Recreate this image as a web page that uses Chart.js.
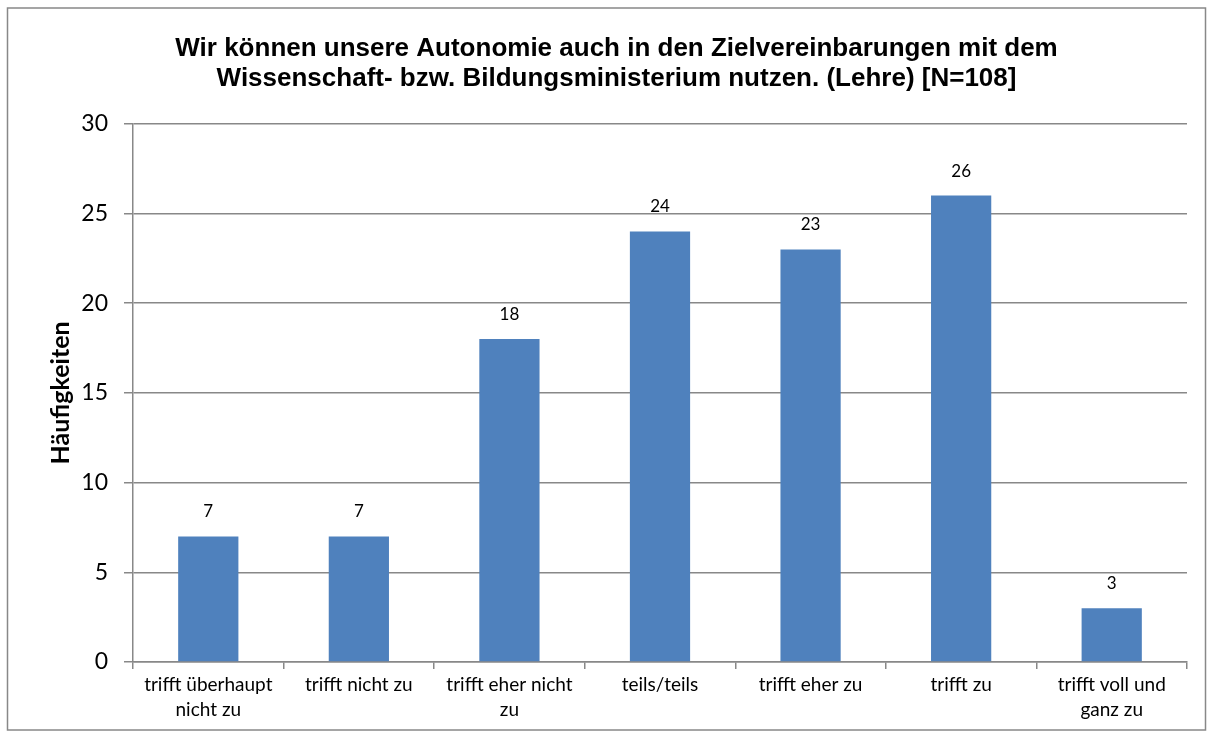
<!DOCTYPE html>
<html>
<head>
<meta charset="utf-8">
<script src="https://cdn.jsdelivr.net/npm/chart.js@4"></script>
<style>
  html, body { margin: 0; padding: 0; background: #fff; }
  #wrap { width: 1213px; height: 737px; position: relative; }
</style>
</head>
<body>
<div id="wrap"><canvas id="c" width="1213" height="737"></canvas></div>
<script>
// categories and values
const categories = [
  ['trifft überhaupt', 'nicht zu'],
  'trifft nicht zu',
  ['trifft eher nicht', 'zu'],
  'teils/teils',
  'trifft eher zu',
  'trifft zu',
  ['trifft voll und', 'ganz zu']
];
const counts = [7, 7, 18, 24, 23, 26, 3];
const yTicks = [0, 5, 10, 15, 20, 25, 30];

const titleLines = [
  'Wir können unsere Autonomie auch in den Zielvereinbarungen mit dem',
  'Wissenschaft- bzw. Bildungsministerium nutzen. (Lehre) [N=108]'
];

// outer frame of the chart
const framePlugin = {
  id: 'frame',
  beforeDraw(chart) {
    const ctx = chart.ctx;
    ctx.save();
    ctx.fillStyle = '#fff';
    ctx.fillRect(0, 0, chart.width, chart.height);
    ctx.strokeStyle = '#888';
    ctx.lineWidth = 1.5;
    ctx.strokeRect(7.5, 8, 1198, 722);
    ctx.restore();
  }
};

// value above each bar
const valueLabels = {
  id: 'valueLabels',
  afterDatasetsDraw(chart) {
    const ctx = chart.ctx;
    const meta = chart.getDatasetMeta(0);
    ctx.save();
    ctx.font = '17px Lato, "Open Sans", sans-serif';
    ctx.fillStyle = '#000';
    ctx.textAlign = 'center';
    ctx.textBaseline = 'bottom';
    meta.data.forEach((bar, i) => {
      ctx.fillText(counts[i], bar.x, bar.y - 16);
    });
    ctx.restore();
  }
};

const ctx = document.getElementById('c').getContext('2d');
new Chart(ctx, {
  type: 'bar',
  data: {
    labels: categories,
    datasets: [{
      data: counts,
      backgroundColor: '#4F81BD',
      borderWidth: 0,
      categoryPercentage: 1,
      barPercentage: 0.4
    }]
  },
  options: {
    responsive: false,
    animation: false,
    devicePixelRatio: 1,
    layout: { padding: { left: 46, right: 26, top: 0, bottom: 0 } },
    plugins: {
      legend: { display: false },
      tooltip: { enabled: false },
      title: {
        display: true,
        text: titleLines,
        color: '#000',
        font: { family: '"Liberation Sans", Arial, sans-serif', size: 26, weight: 'bold', lineHeight: 1.15 },
        padding: { top: 34, bottom: 30 }
      }
    },
    scales: {
      x: {
        grid: {
          offset: true,
          drawOnChartArea: false,
          color: '#888',
          lineWidth: 1.5,
          tickLength: 7
        },
        border: { color: '#888', width: 1.5 },
        ticks: {
          autoSkip: false,
          maxRotation: 0,
          color: '#000',
          padding: 4,
          font: { family: 'Lato, "Open Sans", sans-serif', size: 19, lineHeight: 1.3 }
        },
        afterFit(scale) { scale.height = 75; }
      },
      y: {
        min: 0,
        max: 30,
        afterBuildTicks(scale) { scale.ticks = yTicks.map(v => ({ value: v })); },
        grid: {
          color: '#888',
          lineWidth: 1.5,
          tickLength: 9
        },
        border: { color: '#888', width: 1.5 },
        ticks: {
          color: '#000',
          padding: 16,
          font: { family: 'Lato, "Open Sans", sans-serif', size: 23 }
        },
        title: {
          display: true,
          text: 'Häufigkeiten',
          color: '#000',
          font: { family: 'Lato, "Open Sans", sans-serif', size: 25, weight: 'bold' },
          padding: { top: 0, bottom: 0 }
        },
        afterFit(scale) { scale.width = 87; }
      }
    }
  },
  plugins: [framePlugin, valueLabels]
});
</script>
</body>
</html>
